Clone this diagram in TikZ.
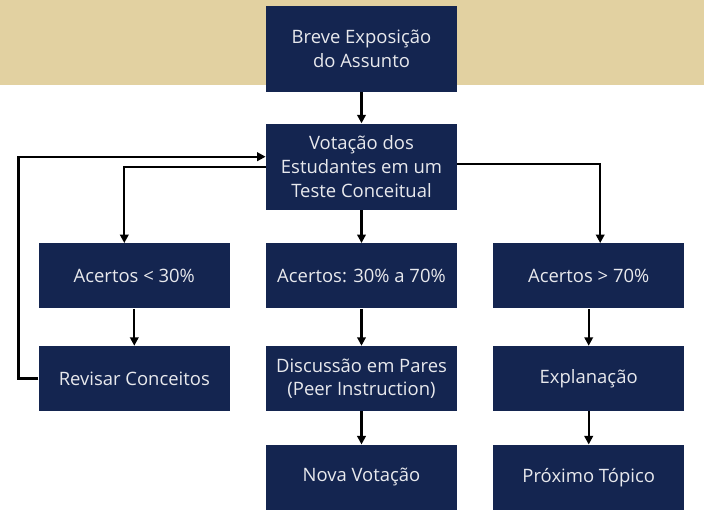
\documentclass[tikz,border=0pt]{standalone}
\usepackage{fontspec}
\setmainfont{Open Sans}
\usepackage{xcolor}
\usepackage{tikz}
\usetikzlibrary{arrows.meta,positioning}
\definecolor{navy}{RGB}{20,37,80}
\definecolor{sand}{RGB}{226,209,161}

\begin{document}
\begin{tikzpicture}[
  node distance=0.66cm and 0.71cm,
  box/.style={fill=navy, text=white!90!navy, align=center, minimum width=3.82cm, minimum height=1.3cm, inner sep=2pt, font=\fontsize{10.5}{13.5}\selectfont},
  tallbox/.style={box, minimum height=1.72cm},
  arrow/.style={-{Triangle[length=1.7mm,width=1.7mm]}, line width=1.3pt}
]
\useasboundingbox (0,0) rectangle (14.08,10.38);
\fill[sand] (0,8.68) rectangle (14.08,10.38);
\node[tallbox] (brief) at (7.23,9.4) {Breve Exposição\\do Assunto};
\node[tallbox, below=0.62cm of brief] (vote) {Votação dos\\Estudantes em um\\Teste Conceitual};
\node[box, below=of vote] (mid) {Acertos: 30\% a 70\%};
\node[box, left=of mid] (low) {Acertos < 30\%};
\node[box, right=of mid] (high) {Acertos > 70\%};
\node[box, below=0.74cm of low] (review) {Revisar Conceitos};
\node[box, below=0.74cm of mid] (peer) {Discussão em Pares\\(Peer Instruction)};
\node[box, below=0.74cm of high] (explain) {Explanação};
\node[box, below=of peer] (revote) {Nova Votação};
\node[box, below=of explain] (next) {Próximo Tópico};
\draw[arrow] (brief) -- (vote);
\draw[arrow] (vote) -- (mid);
\draw[arrow] (vote.west) -| ([xshift=-0.2cm]low.north);
\draw[arrow] ([yshift=0.06cm]vote.east) -| ([xshift=0.23cm]high.north);
\draw[arrow] (low) -- (review);
\draw[arrow] (mid) -- (peer);
\draw[arrow] (high) -- (explain);
\draw[arrow] (peer) -- (revote);
\draw[arrow] (explain) -- (next);
% loop back to the vote
\draw[arrow] (review.west) -- ++(-0.4,0) |- ([yshift=0.2cm]vote.west);
\end{tikzpicture}
\end{document}
